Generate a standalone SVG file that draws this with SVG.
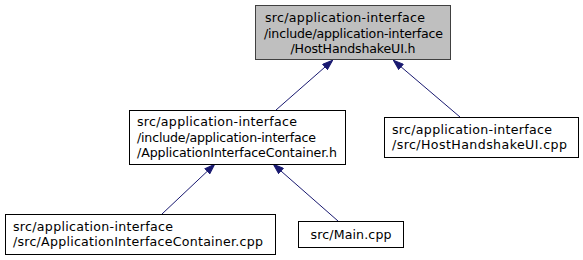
<svg xmlns="http://www.w3.org/2000/svg" width="583" height="260" viewBox="0 0 583 260">
  <style>
    .box { fill: #ffffff; stroke: #000000; stroke-width: 1; }
    .box.hl { fill: #bfbfbf; stroke: #404040; }
    .lbl { font-family: "DejaVu Sans", sans-serif; font-size: 12.6px; fill: #000000; }
    .mid { text-anchor: middle; }
    .edge { fill: none; stroke: #191970; stroke-width: 1; marker-end: url(#head); }
  </style>
  <defs>
    <marker id="head" viewBox="0 0 11 8" refX="11" refY="4" markerWidth="11" markerHeight="8" markerUnits="userSpaceOnUse" orient="auto">
      <path d="M0.5,0.5 L10.5,4 L0.5,7.5 Z" fill="#191970" stroke="#191970" stroke-width="1"/>
    </marker>
  </defs>
  <rect width="583" height="260" fill="#ffffff"/>

  <!-- include dependency edges (arrow points at the included header) -->
  <g id="edges">
    <path class="edge" d="M276,110 L333,60"/>
    <path class="edge" d="M460,117 L393,60"/>
    <path class="edge" d="M162,214 L215,164"/>
    <path class="edge" d="M338,221 L273,164"/>
  </g>

  <g id="node-hosthandshakeui-h">
    <rect class="box hl" x="255.5" y="5.5" width="195" height="54"/>
    <text class="lbl" x="265" y="22" textLength="160" lengthAdjust="spacing">src/application-interface</text>
    <text class="lbl" x="264" y="37.5" textLength="179" lengthAdjust="spacing">/include/application-interface</text>
    <text class="lbl mid" x="353" y="53" textLength="125" lengthAdjust="spacing">/HostHandshakeUI.h</text>
  </g>

  <g id="node-appinterfacecontainer-h">
    <rect class="box" x="129.5" y="110.5" width="216" height="54"/>
    <text class="lbl" x="137" y="126" textLength="160" lengthAdjust="spacing">src/application-interface</text>
    <text class="lbl" x="137" y="141.5" textLength="179" lengthAdjust="spacing">/include/application-interface</text>
    <text class="lbl" x="137" y="157" textLength="200" lengthAdjust="spacing">/ApplicationInterfaceContainer.h</text>
  </g>

  <g id="node-hosthandshakeui-cpp">
    <rect class="box" x="384.5" y="117.5" width="194" height="40"/>
    <text class="lbl" x="392" y="133.5" textLength="160" lengthAdjust="spacing">src/application-interface</text>
    <text class="lbl" x="392" y="149" textLength="175" lengthAdjust="spacing">/src/HostHandshakeUI.cpp</text>
  </g>

  <g id="node-appinterfacecontainer-cpp">
    <rect class="box" x="5.5" y="214.5" width="270" height="40"/>
    <text class="lbl" x="13" y="230.5" textLength="160" lengthAdjust="spacing">src/application-interface</text>
    <text class="lbl" x="13" y="246" textLength="250" lengthAdjust="spacing">/src/ApplicationInterfaceContainer.cpp</text>
  </g>

  <g id="node-main-cpp">
    <rect class="box" x="298.5" y="221.5" width="105" height="26"/>
    <text class="lbl mid" x="351" y="238.5" textLength="81" lengthAdjust="spacing">src/Main.cpp</text>
  </g>
</svg>
